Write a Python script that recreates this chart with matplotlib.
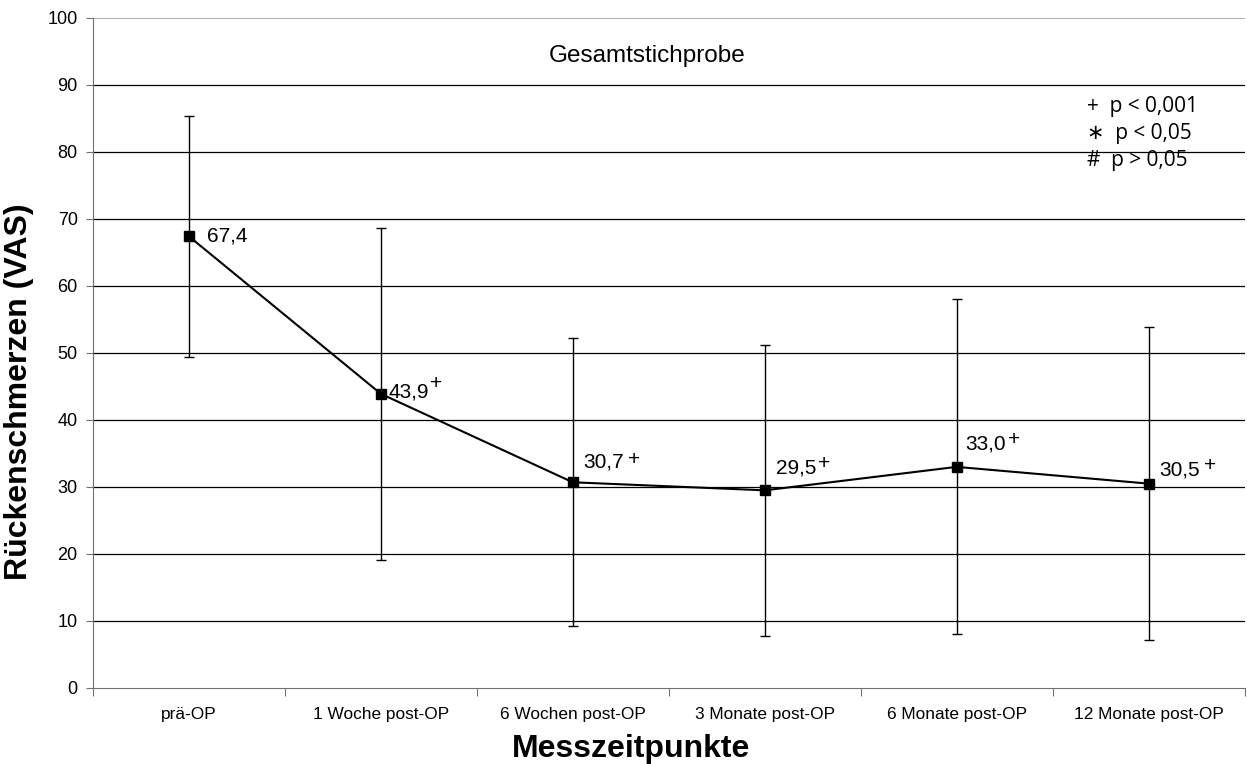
import matplotlib.pyplot as plt
import numpy as np

plt.rcParams['font.family'] = ['Liberation Sans', 'DejaVu Sans']

# VAS Rückenschmerzen, Mittelwert und Standardabweichung
zeitpunkte = ['prä-OP', '1 Woche post-OP', '6 Wochen post-OP',
              '3 Monate post-OP', '6 Monate post-OP', '12 Monate post-OP']
mittelwerte = [67.4, 43.9, 30.7, 29.5, 33.0, 30.5]
sd = [18.0, 24.8, 21.5, 21.7, 25.0, 23.4]
signifikanz = ['', '+', '+', '+', '+', '+']
y_ticks = [0, 10, 20, 30, 40, 50, 60, 70, 80, 90, 100]

# label offsets in points: number (dx, dy to baseline) and superscript (gap, rise)
label_offsets = [(13, -4), (5.8, -2.5), (7.2, 10.3), (7.9, 12.2), (6.5, 12.2), (7.9, 6.2)]
sup_offsets = [(0, 0), (0.5, 6), (3, 2.5), (1.5, 3), (1.5, 3.6), (3, 3)]

fig = plt.figure(figsize=(12.47, 7.64), dpi=100)
ax = fig.add_axes([0.0746, 0.0995, 0.9234, 0.8770])

x = np.arange(len(zeitpunkte))

for yv in y_ticks[1:-1]:
    ax.axhline(yv, color='black', linewidth=0.9, zorder=1)
ax.axhline(100, color='#a0a0a0', linewidth=1.2, zorder=1)

ax.errorbar(x, mittelwerte, yerr=sd, fmt='none', ecolor='black',
            elinewidth=1.0, capsize=3.8, capthick=1.0, zorder=2)
ax.plot(x, mittelwerte, color='black', linewidth=1.5, marker='s',
        markersize=6.5, zorder=3)

for i, (m, s) in enumerate(zip(mittelwerte, signifikanz)):
    txt = f'{m:.1f}'.replace('.', ',')
    num = ax.annotate(txt, (x[i], m), xytext=label_offsets[i], textcoords='offset points',
                      ha='left', va='baseline', fontsize=15)
    if s:
        ax.annotate(s, xy=(1, 1), xycoords=num, xytext=sup_offsets[i],
                    textcoords='offset points', ha='left', va='top', fontsize=15)

ax.text(0.481, 93.4, 'Gesamtstichprobe', transform=ax.get_yaxis_transform(),
        ha='center', va='baseline', fontsize=17.5)

legende = ['+  p < 0,001', '\u2217  p < 0,05', '#  p > 0,05']
legende_y = [86.0, 82.0, 77.9]
for t, ly in zip(legende, legende_y):
    ax.text(4.68, ly, t, ha='left', va='baseline', fontsize=15,
            family=['Open Sans', 'DejaVu Sans'])

ax.set_xlim(-0.5, len(zeitpunkte) - 0.5)
ax.set_ylim(0, 100)
ax.set_yticks(y_ticks)
ax.set_xticks(np.arange(len(zeitpunkte) + 1) - 0.5)
ax.set_xticklabels([])
ax.set_xticks(x, minor=True)
ax.set_xticklabels(zeitpunkte, minor=True, fontsize=12.4)
ax.tick_params(axis='x', which='minor', length=0, pad=14)
ax.tick_params(axis='x', which='major', length=6, color='#707070')
ax.tick_params(axis='y', length=5, color='#707070', labelsize=13, pad=6)

for side in ['top', 'right']:
    ax.spines[side].set_visible(False)
ax.spines['left'].set_color('#707070')
ax.spines['bottom'].set_color('#707070')

ax.set_xlabel('Messzeitpunkte', fontsize=23, fontweight='bold', x=0.467, labelpad=8)
ax.set_ylabel('Rückenschmerzen (VAS)', fontsize=23, fontweight='bold', y=0.4425, labelpad=10)

fig.savefig('out.png', dpi=100)
